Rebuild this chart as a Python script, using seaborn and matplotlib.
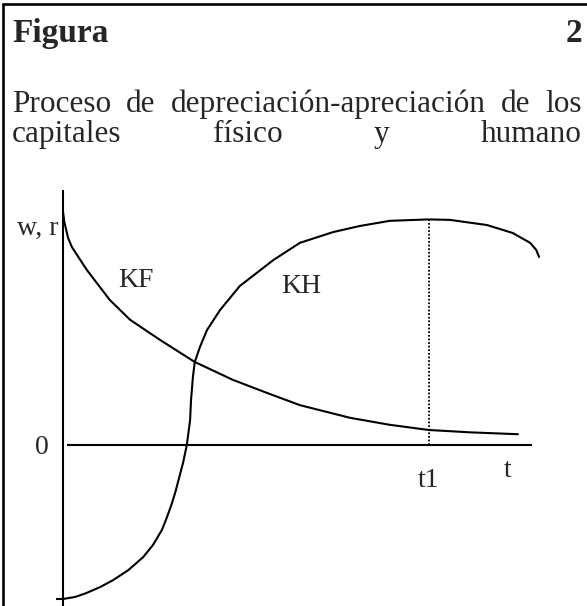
import pandas as pd
import seaborn as sns
from matplotlib import pyplot as plt
from matplotlib.lines import Line2D

# curve KF (physical capital)
kf_t = [0.0, 0.03, 0.11, 0.19, 0.51, 1.0, 1.43, 2.07, 2.81, 3.62, 4.35, 5.05, 6.12, 6.97, 7.8, 8.68, 9.7]
kf_v = [4.97, 4.75, 4.41, 4.22, 3.73, 3.09, 2.67, 2.24, 1.77, 1.39, 1.11, 0.85, 0.58, 0.43, 0.32, 0.27, 0.23]

# curve KH (human capital)
kh_t = [0.02, 0.26, 0.49, 0.79, 1.07, 1.39, 1.71, 1.92, 2.11, 2.22, 2.32, 2.40, 2.47, 2.56, 2.64, 2.71, 2.73, 2.77,
        2.81, 2.92, 3.07, 3.35, 3.77, 4.48, 5.05, 5.76, 6.33, 6.97, 7.8, 8.25, 9.04, 9.59, 9.96, 10.09, 10.15]
kh_v = [-3.28, -3.24, -3.16, -3.03, -2.88, -2.67, -2.39, -2.13, -1.81, -1.53, -1.25, -0.99, -0.72, -0.38, 0.0, 0.53, 0.96, 1.45,
        1.77, 2.09, 2.45, 2.88, 3.39, 3.94, 4.31, 4.54, 4.67, 4.78, 4.81, 4.80, 4.69, 4.52, 4.31, 4.16, 4.01]

t1 = 7.8
t1_top = 4.81
title_left = "Figura"
title_right = "2"
line1 = ["Proceso", "de", "depreciación-apreciación", "de", "los"]
line2 = ["capitales", "físico", "y", "humano"]

sns.set_style("white")
plt.rcParams['font.family'] = ['Liberation Serif', 'DejaVu Serif']

W, H = 587, 606
PX, X0, Y0 = 46.9, 63, 445  # pixels per unit, origin in pixels

fig = plt.figure(figsize=(W / 100, H / 100), dpi=100)
ax = fig.add_axes([0, 0, 1, 1])
ax.set_xlim(-X0 / PX, (W - X0) / PX)
ax.set_ylim((Y0 - H) / PX, Y0 / PX)
ax.axis('off')

df_kf = pd.DataFrame({'t': kf_t, 'v': kf_v})
df_kh = pd.DataFrame({'t': kh_t, 'v': kh_v})
sns.lineplot(data=df_kf, x='t', y='v', sort=False, estimator=None, color='black', linewidth=1.5, ax=ax)
sns.lineplot(data=df_kh, x='t', y='v', sort=False, estimator=None, color='black', linewidth=1.5, ax=ax)

# axes of the diagram
ax.plot([0, 0], [(Y0 - H) / PX, 5.44], color='black', lw=1.5, solid_capstyle='butt')
ax.plot([0.08, 10.0], [0, 0], color='black', lw=1.5, solid_capstyle='butt')
ax.plot([-0.15, 0], [kh_v[0], kh_v[0]], color='black', lw=1.5, solid_capstyle='butt')
ax.plot([t1, t1], [0, t1_top], color='black', lw=1.3, linestyle=(0, (1, 1.0)))

fs = 20
ax.text(-0.1, 4.48, "w, r", fontsize=fs, ha='right', va='baseline')
ax.text(-0.45, -0.2, "0", fontsize=fs, ha='center', va='baseline')
ax.text(1.56, 3.37, "KF", fontsize=fs, ha='center', va='baseline')
ax.text(5.07, 3.24, "KH", fontsize=fs, ha='center', va='baseline')
ax.text(t1, -0.9, "t1", fontsize=fs, ha='center', va='baseline')
ax.text(9.49, -0.68, "t", fontsize=fs, ha='center', va='baseline')

# frame (top and left only)
fig.add_artist(Line2D([3 / W, 1], [1 - 4 / H, 1 - 4 / H], transform=fig.transFigure, color='black', lw=1.9))
fig.add_artist(Line2D([3 / W, 3 / W], [0, 1 - 4 / H], transform=fig.transFigure, color='black', lw=1.9))


def fy(py):
    return 1 - py / H


fig.text(12 / W, fy(42), title_left, fontsize=24, fontweight='bold', ha='left', va='baseline')
fig.text(582 / W, fy(42), title_right, fontsize=24, fontweight='bold', ha='right', va='baseline')

# justified paragraph
left, right = 12, 582
renderer = fig.canvas.get_renderer()
for words, base in [(line1, 112), (line2, 142)]:
    texts = [fig.text(0, fy(base), w, fontsize=22.5, ha='left', va='baseline') for w in words]
    widths = [t.get_window_extent(renderer).width for t in texts]
    gap = (right - left - sum(widths)) / (len(words) - 1)
    x = left
    for t, w in zip(texts, widths):
        t.set_x(x / W)
        x += w + gap

plt.savefig('out.png', dpi=100)
